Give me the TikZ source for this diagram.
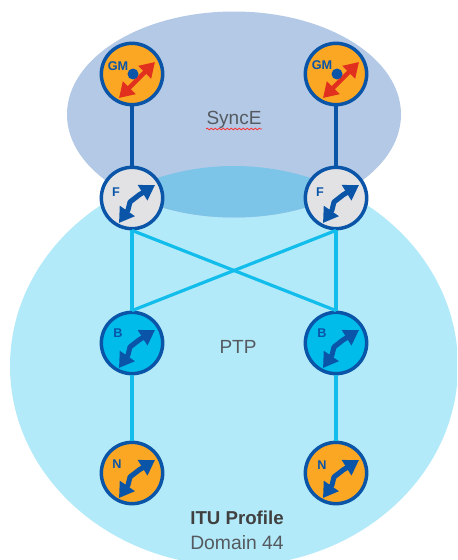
\documentclass[tikz,border=0pt]{standalone}
\usepackage{fontspec}
\setmainfont{Liberation Sans}
\usetikzlibrary{arrows.meta,decorations.pathmorphing}
\definecolor{ptpblue}{HTML}{B3EAF9}
\definecolor{synceblue}{HTML}{B3C9E6}
\definecolor{overlapblue}{HTML}{7CC4E8}
\definecolor{darkline}{HTML}{0A55A8}
\definecolor{lightline}{HTML}{12BDEC}
\definecolor{gmorange}{HTML}{FBA724}
\definecolor{fgrey}{HTML}{E2E2E4}
\definecolor{bblue}{HTML}{00BCEB}
\definecolor{gmred}{HTML}{E2301E}
\definecolor{textgrey}{HTML}{555A60}
\tikzset{
	clock/.style={circle,draw=darkline,line width=2.6pt,minimum size=46pt,inner sep=0pt},
	clocktext/.style={text=darkline,font=\bfseries\fontsize{9.5}{10}\selectfont,inner sep=0pt},
	areatext/.style={text=textgrey,font=\fontsize{14.25}{16}\selectfont,inner sep=0pt},
	hardlink/.style={darkline,line width=2.8pt},
	softlink/.style={lightline,line width=2.4pt},
	timearrow/.pic={
		\draw[darkline,line width=3.8pt,line join=round,{Triangle[length=11pt,width=13pt]}-{Triangle[length=11pt,width=13pt]}]
			(-13,25)--(-4,12)--(-2,4)--(7,-3)--(23,-13);
	},
	gmarrow/.pic={
		\draw[gmred,line width=3.4pt,{Triangle[length=11pt,width=13pt]}-{Triangle[length=11pt,width=13pt]}] (-13,24)--(23,-12);
		\fill[darkline] (1,0) circle (5.5);
	}
}
\begin{document}
\begin{tikzpicture}[x=0.75pt,y=-0.75pt]
	\clip (0,0) rectangle (457,560);
	\fill[white] (0,0) rectangle (457,560);

	\fill[ptpblue] (234,366) ellipse [x radius=224,y radius=200];
	\fill[synceblue] (234,114.5) ellipse [x radius=167,y radius=103];
	\begin{scope}
		\clip (234,114.5) ellipse [x radius=167,y radius=103];
		\fill[overlapblue] (234,366) ellipse [x radius=224,y radius=200];
	\end{scope}

	\node[clock,fill=gmorange] (gmleft) at (132,74) {};
	\node[clock,fill=gmorange] (gmright) at (336,74) {};
	\node[clock,fill=fgrey] (fleft) at (132,198) {};
	\node[clock,fill=fgrey] (fright) at (336,198) {};
	\node[clock,fill=bblue] (bleft) at (132,343) {};
	\node[clock,fill=bblue] (bright) at (336,343) {};
	\node[clock,fill=gmorange] (nleft) at (132,473) {};
	\node[clock,fill=gmorange] (nright) at (336,473) {};

	\draw[hardlink] (gmleft)--(fleft);
	\draw[hardlink] (gmright)--(fright);
	\draw[softlink] (fleft)--(bleft);
	\draw[softlink] (fright)--(bright);
	\draw[softlink] (fleft.south)--(bright.north);
	\draw[softlink] (fright.south)--(bleft.north);
	\draw[softlink] (bleft)--(nleft);
	\draw[softlink] (bright)--(nright);

	\pic at (gmleft) {gmarrow};
	\pic at (gmright) {gmarrow};
	\pic at (fleft) {timearrow};
	\pic at (fright) {timearrow};
	\pic at (bleft) {timearrow};
	\pic at (bright) {timearrow};
	\pic at (nleft) {timearrow};
	\pic at (nright) {timearrow};

	\node[clocktext] (gmlefttext) at (118,66) {GM};
	\node[clocktext] (gmrighttext) at (322,65) {GM};
	\node[clocktext] (flefttext) at (116,192) {F};
	\node[clocktext] (frighttext) at (320,192) {F};
	\node[clocktext] (blefttext) at (118,333) {B};
	\node[clocktext] (brighttext) at (322,333) {B};
	\node[clocktext] (nlefttext) at (117,464) {N};
	\node[clocktext] (nrighttext) at (322,465) {N};

	\node[areatext] (syncetext) at (234,120) {SyncE};
	\draw[red!80!white,line width=0.6pt,decorate,decoration={snake,amplitude=0.6pt,segment length=3pt}] (206,129)--(262,129);
	\node[areatext] (ptptext) at (238,347) {PTP};
	\node[areatext,text=black!75,font=\fontsize{14}{16}\selectfont\bfseries] (itutext) at (237,518) {ITU Profile};
	\node[areatext,font=\fontsize{14.5}{16}\selectfont] (domaintext) at (237,543) {Domain 44};
\end{tikzpicture}
\end{document}
